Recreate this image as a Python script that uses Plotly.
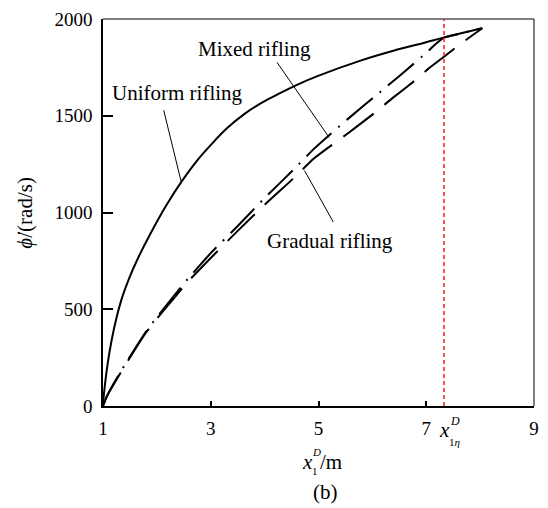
import plotly.graph_objects as go

# Angular velocity of the projectile vs. travel along the bore
uniform_x = [1.0, 1.01, 1.04, 1.09, 1.16, 1.25, 1.36, 1.5, 1.66, 1.86, 2.17, 2.47, 2.75, 3.02, 3.3, 3.64,
             3.95, 4.25, 4.6, 4.98, 5.78, 6.39, 7.0, 7.34, 8.04]
uniform_y = [0, 40, 120, 225, 340, 455, 565, 670, 770, 880, 1035, 1165, 1270, 1355, 1435, 1512,
             1568, 1612, 1660, 1705, 1785, 1836, 1880, 1905, 1952]

mixed_x = [1.0, 1.07, 1.28, 1.8, 2.32, 2.57, 3.0, 3.5, 4.0, 4.55, 4.92, 5.53, 6.21, 6.54, 7.03, 7.17, 7.34, 7.6, 7.85, 8.04]
mixed_y = [0, 50, 155, 385, 570, 655, 790, 930, 1075, 1225, 1330, 1480, 1638, 1715, 1832, 1870, 1905, 1922, 1940, 1952]

gradual_x = [1.0, 1.07, 1.28, 1.8, 2.32, 2.57, 3.0, 3.5, 4.0, 4.55, 4.92, 5.53, 6.05, 6.39, 6.82, 7.03, 7.33, 7.61, 8.04]
gradual_y = [0, 48, 150, 380, 558, 640, 765, 905, 1040, 1180, 1280, 1406, 1517, 1595, 1689, 1741, 1805, 1866, 1952]

x_eta = 7.33
x_ticks = [1, 3, 5, 7, 9]
y_ticks = [0, 500, 1000, 1500, 2000]

FONT = "Liberation Serif"

fig = go.Figure()
fig.add_trace(go.Scatter(x=uniform_x, y=uniform_y, mode="lines",
                         line=dict(color="black", width=2, shape="spline", smoothing=1.0), name="Uniform rifling"))
fig.add_trace(go.Scatter(x=mixed_x, y=mixed_y, mode="lines",
                         line=dict(color="black", width=2, dash="34px,9px,2px,9px", shape="spline", smoothing=0.6),
                         name="Mixed rifling"))
fig.add_trace(go.Scatter(x=gradual_x, y=gradual_y, mode="lines",
                         line=dict(color="black", width=2, dash="38px,14px", shape="spline", smoothing=0.6),
                         name="Gradual rifling"))

# vertical marker at x_1eta
fig.add_shape(type="line", x0=x_eta, x1=x_eta, y0=0, y1=2000, xref="x", yref="y",
              line=dict(color="#ff1a1a", width=1.5, dash="4px,3px"))
# top and right frame
fig.add_shape(type="line", x0=0, x1=1, y0=1, y1=1, xref="paper", yref="paper", line=dict(color="#555", width=1.5))
fig.add_shape(type="line", x0=1, x1=1, y0=0, y1=1, xref="paper", yref="paper", line=dict(color="#555", width=1.5))

label_font = dict(family=FONT, size=21, color="black")
# curve labels with leader lines
fig.add_annotation(x=2.38, y=1619, text="Uniform rifling", showarrow=False, font=label_font)
fig.add_annotation(x=2.45, y=1160, ax=2.12, ay=1536, axref="x", ayref="y", text="", showarrow=True,
                   arrowhead=0, arrowwidth=1, arrowcolor="black")
fig.add_annotation(x=3.81, y=1845, text="Mixed rifling", showarrow=False, font=label_font)
fig.add_annotation(x=5.20, y=1387, ax=4.21, ay=1784, axref="x", ayref="y", text="", showarrow=True,
                   arrowhead=0, arrowwidth=1, arrowcolor="black")
fig.add_annotation(x=5.22, y=851, text="Gradual rifling", showarrow=False, font=label_font)
fig.add_annotation(x=4.74, y=1217, ax=5.29, ay=943, axref="x", ayref="y", text="", showarrow=True,
                   arrowhead=0, arrowwidth=1, arrowcolor="black")


def paper_text(x, y, text, size, xanchor="left"):
    fig.add_annotation(x=x, y=y, xref="paper", yref="paper", xanchor=xanchor, yanchor="middle",
                       text=text, showarrow=False, borderpad=0,
                       font=dict(family=FONT, size=size, color="black"))


# x_1eta^D label beside the marker
paper_text(0.777, -0.062, "<i>x</i>", 21)
paper_text(0.802, -0.040, "<i>D</i>", 12)
paper_text(0.801, -0.092, "1<i>η</i>", 11)

# x axis title x_1^D/m
paper_text(0.459, -0.144, "<i>x</i>", 21)
paper_text(0.482, -0.119, "<i>D</i>", 11)
paper_text(0.483, -0.168, "1", 11)
paper_text(0.501, -0.144, "/m", 21)
paper_text(0.516, -0.222, "(b)", 21, xanchor="center")

# y axis title
fig.add_annotation(x=-0.183, y=0.5, xref="paper", yref="paper", xanchor="center", yanchor="middle",
                   text="<i>ϕ̇</i>/(rad/s)", textangle=-90,
                   showarrow=False, font=dict(family=FONT, size=21, color="black"))

fig.update_layout(
    width=548, height=508,
    margin=dict(l=103, r=9, t=18, b=102),
    paper_bgcolor="white", plot_bgcolor="white",
    showlegend=False,
    font=dict(family=FONT, size=19, color="black"),
    xaxis=dict(range=[1, 9], tickvals=x_ticks, ticks="inside", ticklen=5, tickwidth=1.5, tickcolor="black",
               ticklabelstandoff=4,
               showline=True, linecolor="black", linewidth=1.5, showgrid=False, zeroline=False),
    yaxis=dict(range=[0, 2000], tickvals=y_ticks, ticks="inside", ticklen=10, tickwidth=1.5, tickcolor="black",
               ticklabelstandoff=5,
               showline=True, linecolor="black", linewidth=1.5, showgrid=False, zeroline=False),
)

fig.write_html("out.html")
